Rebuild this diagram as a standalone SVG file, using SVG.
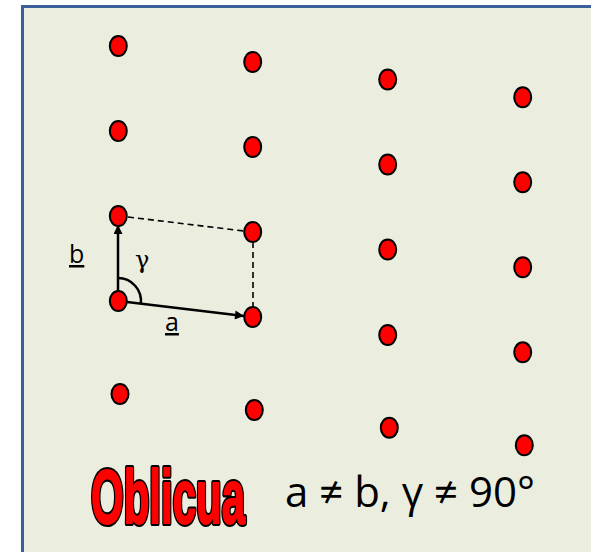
<svg xmlns="http://www.w3.org/2000/svg" width="591" height="552" viewBox="0 0 591 552">
<style>
.dot{fill:#FF0000;stroke:#000;stroke-width:2}
.vec{stroke:#000;stroke-width:2.5;fill:none}
.dash{stroke:#000;stroke-width:1.6;stroke-dasharray:6 4;fill:none}
.lbl{font-family:"Open Sans","Liberation Sans",sans-serif;font-size:25px;fill:#000}
.ttl{font-family:"Liberation Sans",sans-serif;font-weight:bold;font-size:42px}
</style>
<defs>
<marker id="ah" viewBox="0 0 10 10" refX="10" refY="5" markerWidth="11" markerHeight="9" markerUnits="userSpaceOnUse" orient="auto">
<path d="M0,0 L10,5 L0,10 Z" fill="#000"/>
</marker>
</defs>
<rect x="22.5" y="6.5" width="600" height="600" fill="#EBEEDF" stroke="#3C5F9C" stroke-width="3"/>
<g id="connectors">
<line class="dash" x1="128" y1="217" x2="244" y2="231"/>
<line class="dash" x1="253" y1="242" x2="253" y2="307"/>
<line class="vec" x1="118" y1="291" x2="118" y2="225" marker-end="url(#ah)"/>
<line class="vec" x1="127" y1="302" x2="244" y2="316" marker-end="url(#ah)"/>
<path class="vec" d="M118,278 A23,23 0 0 1 140.8,303.7" stroke-width="1.8"/>
</g>
<g id="points">
<ellipse class="dot" cx="118.3" cy="46" rx="8.5" ry="10"/>
<ellipse class="dot" cx="252.7" cy="62" rx="8.5" ry="10"/>
<ellipse class="dot" cx="387.7" cy="79.5" rx="8.5" ry="10"/>
<ellipse class="dot" cx="522.7" cy="97.3" rx="8.5" ry="10"/>
<ellipse class="dot" cx="118.3" cy="131" rx="8.5" ry="10"/>
<ellipse class="dot" cx="252.7" cy="147" rx="8.5" ry="10"/>
<ellipse class="dot" cx="387.7" cy="164.5" rx="8.5" ry="10"/>
<ellipse class="dot" cx="522.7" cy="182.3" rx="8.5" ry="10"/>
<ellipse class="dot" cx="118.3" cy="216" rx="8.5" ry="10"/>
<ellipse class="dot" cx="252.7" cy="232" rx="8.5" ry="10"/>
<ellipse class="dot" cx="387.7" cy="249.5" rx="8.5" ry="10"/>
<ellipse class="dot" cx="522.7" cy="267.3" rx="8.5" ry="10"/>
<ellipse class="dot" cx="118.3" cy="301" rx="8.5" ry="10"/>
<ellipse class="dot" cx="252.7" cy="317" rx="8.5" ry="10"/>
<ellipse class="dot" cx="387.7" cy="335" rx="8.5" ry="10"/>
<ellipse class="dot" cx="522.7" cy="352.3" rx="8.5" ry="10"/>
<ellipse class="dot" cx="120" cy="394" rx="8.5" ry="10"/>
<ellipse class="dot" cx="254.3" cy="410" rx="8.5" ry="10"/>
<ellipse class="dot" cx="389.3" cy="427.7" rx="8.5" ry="10"/>
<ellipse class="dot" cx="524.3" cy="445.3" rx="8.5" ry="10"/>
</g>
<g id="labels">
<text class="lbl" x="69" y="263" text-decoration="underline">b</text>
<text class="lbl" x="165" y="331" text-decoration="underline">a</text>
<text x="135" y="268" font-family="'DejaVu Serif','Liberation Serif',serif" font-size="24">γ</text>
</g>
<g id="title">
<g transform="translate(91,523) scale(1,1.8)">
<text class="ttl" x="0" y="0" fill="#000" stroke="#000" stroke-width="5" stroke-linejoin="round" vector-effect="non-scaling-stroke">Oblicua</text>
<text class="ttl" x="0" y="0" fill="#FF0000" stroke="#FF0000" stroke-width="1.6" stroke-linejoin="round" vector-effect="non-scaling-stroke">Oblicua</text>
</g>
<text x="285" y="507" font-family="'Open Sans','Liberation Sans',sans-serif" font-size="42" fill="#000">a ≠ b, γ ≠ 90°</text>
</g>
</svg>
